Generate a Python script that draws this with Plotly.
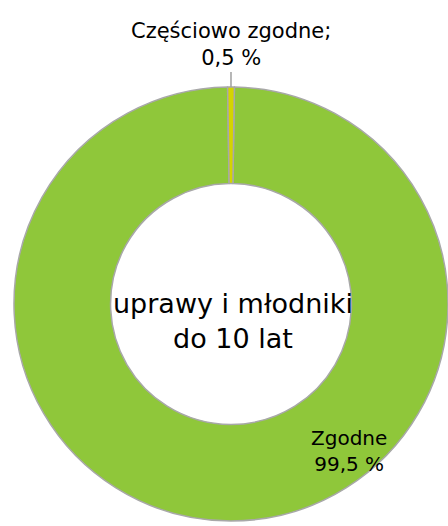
import plotly.graph_objects as go

categories = ["Zgodne", "Częściowo zgodne"]
values = [99.5, 0.5]
value_labels = ["99,5 %", "0,5 %"]
center_title = "uprawy i młodniki<br>do 10 lat"

colors = ["#8FC73A", "#D4D400"]

fig = go.Figure()
fig.add_trace(go.Pie(
    labels=categories,
    values=values,
    hole=0.555,
    sort=False,
    direction="clockwise",
    rotation=values[1] / 100 * 360 / 2,
    marker=dict(colors=colors, line=dict(color="#A8A8A8", width=1.5)),
    textinfo="none",
    hoverinfo="label+value",
    showlegend=False,
    domain=dict(x=[0.03125, 1.0], y=[0.0095, 0.8346]),
))

font = "DejaVu Sans, Verdana, sans-serif"
fig.add_annotation(x=0.52, y=0.389, xref="paper", yref="paper",
                   text=center_title, showarrow=False,
                   font=dict(family=font, size=27, color="#000000"),
                   align="center", xanchor="center", yanchor="middle")
fig.add_annotation(x=0.779, y=0.1426, xref="paper", yref="paper",
                   text=categories[0] + "<br>" + value_labels[0], showarrow=False,
                   font=dict(family=font, size=20, color="#000000"),
                   align="center", xanchor="center", yanchor="middle")
fig.add_annotation(x=0.5156, y=0.8346, xref="paper", yref="paper",
                   ax=0, ay=-15,
                   text=categories[1] + ";<br>" + value_labels[1], showarrow=True,
                   arrowhead=0, arrowwidth=1.5, arrowcolor="#A0A0A0",
                   font=dict(family=font, size=21, color="#000000"),
                   align="center", xanchor="center", yanchor="bottom")

fig.update_layout(
    width=448, height=526,
    margin=dict(l=0, r=0, t=0, b=0),
    paper_bgcolor="white", plot_bgcolor="white",
)
fig.write_html("out.html", config={"displayModeBar": False},
               post_script="document.body.style.margin='0';document.body.style.overflow='hidden';")
